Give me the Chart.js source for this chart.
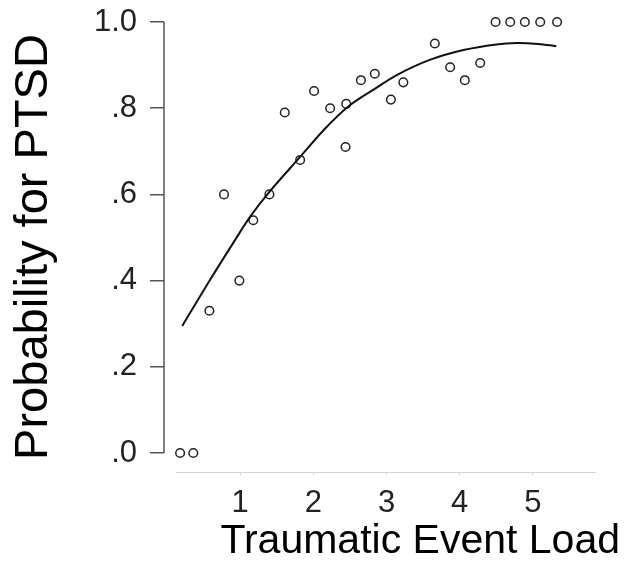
<!DOCTYPE html>
<html lang="en">
<head>
    <meta charset="UTF-8">
    <title>PTSD and traumatic event load</title>
    <script src="https://cdn.jsdelivr.net/npm/chart.js"></script>
    <style>
        html, body { margin: 0; padding: 0; background: #fff; }
        #wrap { width: 628px; height: 581px; }
    </style>
</head>
<body>
    <div id="wrap"><canvas id="ptsd"></canvas></div>

    <script>
        // observed proportions per event-load level
        const eventLoad = [0.18, 0.36, 0.58, 0.78, 0.99, 1.18, 1.40, 1.61, 1.82, 2.01, 2.23, 2.44, 2.45,
            2.65, 2.84, 3.06, 3.23, 3.66, 3.87, 4.07, 4.28, 4.49, 4.69, 4.89, 5.10, 5.33];
        const ptsdRate = [0.0, 0.0, 0.33, 0.60, 0.40, 0.54, 0.60, 0.79, 0.68, 0.84, 0.80, 0.71, 0.81,
            0.865, 0.88, 0.82, 0.86, 0.95, 0.895, 0.865, 0.905, 1.0, 1.0, 1.0, 1.0, 1.0];

        // fitted curve
        const fitX = [0.21, 0.59, 0.93, 1.14, 1.40, 1.82, 2.14, 2.47, 2.85, 3.14, 3.59, 4.05, 4.50, 4.78, 5.07, 5.32];
        const fitY = [0.295, 0.402, 0.494, 0.549, 0.606, 0.687, 0.749, 0.803, 0.846, 0.877, 0.912, 0.935, 0.948, 0.951, 0.949, 0.944];

        const xTicks = [1, 2, 3, 4, 5];
        const xTickLabels = ['1', '2', '3', '4', '5'];
        const yTicks = [0, 0.2, 0.4, 0.6, 0.8, 1.0];
        const yTickLabels = ['.0', '.2', '.4', '.6', '.8', '1.0'];

        const FONT = '"Liberation Sans", Arial, Helvetica, sans-serif';

        // axis lines: y only spans 0..1, x baseline is a light rule
        const axisLines = {
            id: 'axisLines',
            beforeDatasetsDraw(chart) {
                const { ctx, chartArea, scales: { x, y } } = chart;
                ctx.save();
                ctx.strokeStyle = '#555';
                ctx.lineWidth = 1.5;
                ctx.beginPath();
                ctx.moveTo(chartArea.left, y.getPixelForValue(1));
                ctx.lineTo(chartArea.left, y.getPixelForValue(0));
                ctx.stroke();

                ctx.strokeStyle = '#d4d4d4';
                ctx.lineWidth = 1;
                ctx.beginPath();
                ctx.moveTo(x.getPixelForValue(0.12), chartArea.bottom + 0.5);
                ctx.lineTo(x.getPixelForValue(5.86), chartArea.bottom + 0.5);
                ctx.stroke();
                ctx.restore();
            }
        };

        const ctx = document.getElementById('ptsd').getContext('2d');
        const chart = new Chart(ctx, {
            type: 'scatter',
            data: {
                datasets: [
                    {
                        label: 'fit',
                        data: fitX.map((v, i) => ({ x: v, y: fitY[i] })),
                        showLine: true,
                        borderColor: '#111',
                        borderWidth: 2,
                        pointRadius: 0,
                        tension: 0.35,
                        clip: false
                    },
                    {
                        label: 'observed',
                        data: eventLoad.map((v, i) => ({ x: v, y: ptsdRate[i] })),
                        pointRadius: 4.3,
                        pointBorderWidth: 1.5,
                        pointBorderColor: '#222',
                        pointBackgroundColor: 'rgba(255,255,255,0)',
                        clip: false
                    }
                ]
            },
            options: {
                responsive: true,
                maintainAspectRatio: false,
                animation: false,
                layout: { padding: { top: 22, right: 8, bottom: 0, left: 0 } },
                plugins: { legend: { display: false }, tooltip: { enabled: false } },
                scales: {
                    x: {
                        type: 'linear',
                        min: -0.04,
                        max: 6.19,
                        afterBuildTicks: (s) => { s.ticks = xTicks.map(v => ({ value: v })); },
                        afterFit: (s) => { s.height = 109; s.paddingLeft = 0; s.paddingRight = 0; },
                        border: { display: false },
                        grid: { drawOnChartArea: false, tickLength: 3, color: '#d4d4d4' },
                        ticks: {
                            padding: 10,
                            color: '#222',
                            font: { family: FONT, size: 31 },
                            callback: (v, i) => xTickLabels[i]
                        },
                        title: {
                            display: true,
                            text: 'Traumatic Event Load',
                            align: 'end',
                            color: '#000',
                            font: { family: FONT, size: 41, lineHeight: 1.2 },
                            padding: { top: 0, bottom: 15 }
                        }
                    },
                    y: {
                        min: -0.044,
                        max: 1.0,
                        afterBuildTicks: (s) => { s.ticks = yTicks.map(v => ({ value: v })); },
                        afterFit: (s) => { s.width = 164; s.paddingTop = 0; s.paddingBottom = 0; },
                        border: { display: false },
                        grid: { drawOnChartArea: false, tickLength: 14, color: '#555', lineWidth: 1.5 },
                        ticks: {
                            padding: 13,
                            color: '#222',
                            font: { family: FONT, size: 31 },
                            callback: (v, i) => yTickLabels[i]
                        },
                        title: {
                            display: true,
                            text: 'Probability for PTSD',
                            color: '#000',
                            font: { family: FONT, size: 47, lineHeight: 1.2 },
                            padding: { top: 6, bottom: 0 }
                        }
                    }
                }
            },
            plugins: [axisLines]
        });
    </script>
</body>
</html>
